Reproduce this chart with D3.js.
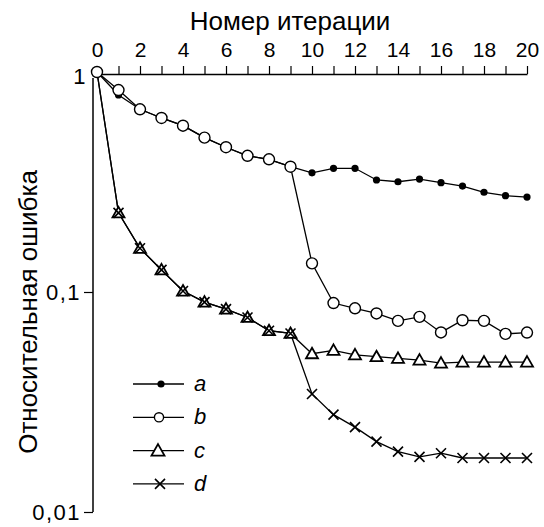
<!DOCTYPE html>
<html>
<head>
<meta charset="utf-8">
<style>
  body { margin: 0; background: #fff; }
  svg { font-family: 'Liberation Sans', Arial, sans-serif; }
  .axis .domain { stroke: #000; stroke-width: 1.5; }
  .axis .tick line { stroke: #000; stroke-width: 1.2; }
  .axis .tick text { font-size: 21px; fill: #000; }
  .yaxis .tick text { font-size: 22px; letter-spacing: 1.5px; }
  .title { font-size: 26px; fill: #000; }
  .legend-label { font-size: 22px; font-style: italic; fill: #000; }
</style>
</head>
<body>
<svg width="544" height="527"></svg>
<script src="https://d3js.org/d3.v7.min.js"></script>
<script>
  // iteration numbers (x) and relative error of each method (y, log)
  const iterations = [0, 1, 2, 3, 4, 5, 6, 7, 8, 9, 10, 11, 12, 13, 14, 15, 16, 17, 18, 19, 20];
  const seriesA = [1, 0.786, 0.677, 0.618, 0.570, 0.503, 0.455, 0.416, 0.401, 0.371, 0.348,
                   0.365, 0.365, 0.323, 0.317, 0.326, 0.314, 0.303, 0.284, 0.274, 0.270];
  const seriesB = [1, 0.828, 0.677, 0.618, 0.570, 0.503, 0.455, 0.416, 0.401, 0.371, 0.135,
                   0.0891, 0.0843, 0.0799, 0.0739, 0.0771, 0.0655, 0.0744, 0.0739, 0.0645, 0.0654];
  const seriesC = [1, 0.229, 0.158, 0.126, 0.101, 0.0899, 0.0836, 0.0766, 0.0667, 0.0648, 0.0524,
                   0.0543, 0.0518, 0.0508, 0.0499, 0.0490, 0.0475, 0.0480, 0.0480, 0.0480, 0.0480];
  const seriesD = [1, 0.229, 0.158, 0.126, 0.101, 0.0899, 0.0836, 0.0766, 0.0667, 0.0648, 0.0344,
                   0.0277, 0.0243, 0.0209, 0.0188, 0.0178, 0.0185, 0.0176, 0.0176, 0.0176, 0.0176];
  const xTicks = [0, 1, 2, 3, 4, 5, 6, 7, 8, 9, 10, 11, 12, 13, 14, 15, 16, 17, 18, 19, 20];
  const yTicks = [0.01, 0.1, 1];
  const yTickLabels = ["0,01", "0,1", "1"];
  const legendKeys = ["a", "b", "c", "d"];

  const svg = d3.select("svg");

  const x = d3.scaleLinear().domain([0, 20]).range([97, 527]);
  const y = d3.scaleLog().domain([0.01, 1]).range([512, 72]);

  // top x axis
  svg.append("g")
    .attr("class", "axis")
    .attr("transform", "translate(0,74)")
    .call(d3.axisTop(x)
      .tickValues(xTicks)
      .tickSize(8)
      .tickSizeOuter(0)
      .tickPadding(9)
      .tickFormat(d => d % 2 === 0 ? d : ""));

  // left y axis, slightly offset from x=0
  const yAxis = svg.append("g")
    .attr("class", "axis yaxis")
    .attr("transform", "translate(93,0)")
    .call(d3.axisLeft(y)
      .tickValues(yTicks)
      .tickSize(9)
      .tickSizeOuter(0)
      .tickPadding(3)
      .tickFormat((d, i) => yTickLabels[i]));
  yAxis.select(".domain").attr("d", `M0,${y(1) + 6}V${y(0.01)}`);
  yAxis.selectAll(".tick").filter(d => d === 1).select("line").remove();
  yAxis.selectAll(".tick").filter(d => d === 1).select("text").attr("x", -6).attr("dy", "0.5em");

  svg.append("text")
    .attr("class", "title")
    .attr("x", 290)
    .attr("y", 30)
    .attr("text-anchor", "middle")
    .text("Номер итерации");

  svg.append("text")
    .attr("class", "title")
    .attr("transform", "translate(37,312) rotate(-90)")
    .attr("text-anchor", "middle")
    .text("Относительная ошибка");

  const line = d3.line()
    .x((d, i) => x(iterations[i]))
    .y(d => y(d));

  const triangle = "M0,-6L6,4.5L-6,4.5Z";
  const bigTriangle = "M0,-6.5L6.5,5L-6.5,5Z";
  const cross = "M-5,-5L5,5M-5,5L5,-5";

  function drawLine(values) {
    svg.append("path")
      .datum(values)
      .attr("fill", "none")
      .attr("stroke", "#000")
      .attr("stroke-width", 1.3)
      .attr("d", line);
  }

  drawLine(seriesD);
  drawLine(seriesC);
  drawLine(seriesA);
  drawLine(seriesB);

  const pts = values => values.map((v, i) => ({ x: iterations[i], v: v }));

  // c markers: open triangles
  svg.append("g").selectAll("path")
    .data(pts(seriesC).slice(1))
    .join("path")
    .attr("transform", d => `translate(${x(d.x)},${y(d.v)})`)
    .attr("d", triangle)
    .attr("fill", "#fff")
    .attr("stroke", "#000")
    .attr("stroke-width", 1.8);

  // d markers: crosses
  svg.append("g").selectAll("path")
    .data(pts(seriesD).slice(1))
    .join("path")
    .attr("transform", d => `translate(${x(d.x)},${y(d.v)})`)
    .attr("d", cross)
    .attr("fill", "none")
    .attr("stroke", "#000")
    .attr("stroke-width", 1.6);

  // a markers: filled dots
  svg.append("g").selectAll("circle")
    .data(pts(seriesA))
    .join("circle")
    .attr("cx", d => x(d.x))
    .attr("cy", d => y(d.v))
    .attr("r", 3.6)
    .attr("fill", "#000");

  // b markers: open circles
  svg.append("g").selectAll("circle")
    .data(pts(seriesB))
    .join("circle")
    .attr("cx", d => x(d.x))
    .attr("cy", d => y(d.v))
    .attr("r", 5.5)
    .attr("fill", "#fff")
    .attr("stroke", "#000")
    .attr("stroke-width", 1.4);

  // legend
  const legend = svg.append("g").selectAll("g")
    .data(legendKeys)
    .join("g")
    .attr("transform", (d, i) => `translate(0,${384 + i * 33.3})`);

  legend.append("line")
    .attr("x1", 133).attr("x2", 184)
    .attr("stroke", "#000").attr("stroke-width", 1.3);

  legend.filter(d => d === "a").append("circle")
    .attr("cx", 161).attr("r", 3.6).attr("fill", "#000");
  legend.filter(d => d === "b").append("circle")
    .attr("cx", 159).attr("r", 4.6).attr("fill", "#fff")
    .attr("stroke", "#000").attr("stroke-width", 1.4);
  legend.filter(d => d === "c").append("path")
    .attr("transform", "translate(158,0)")
    .attr("d", bigTriangle).attr("fill", "#fff")
    .attr("stroke", "#000").attr("stroke-width", 1.8);
  legend.filter(d => d === "d").append("path")
    .attr("transform", "translate(160,0)")
    .attr("d", cross).attr("fill", "none")
    .attr("stroke", "#000").attr("stroke-width", 1.6);

  legend.append("text")
    .attr("class", "legend-label")
    .attr("x", 194)
    .attr("y", 7)
    .text(d => d);
</script>
</body>
</html>
